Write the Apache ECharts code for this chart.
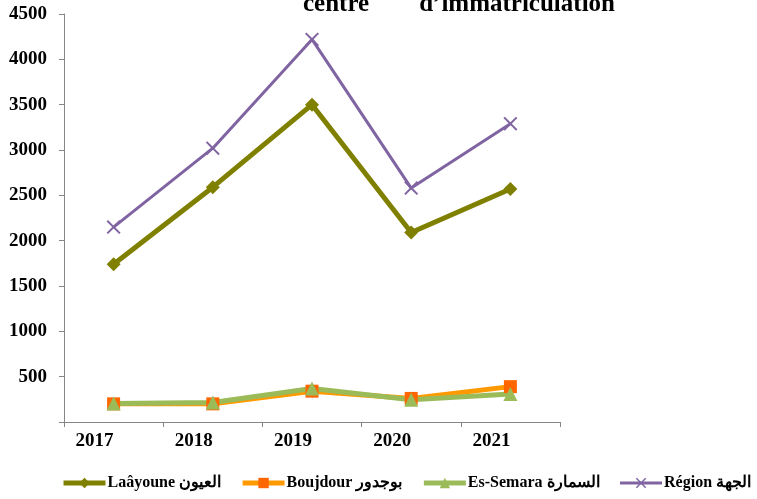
<!DOCTYPE html>
<html>
<head>
<meta charset="utf-8">
<script src="https://cdn.jsdelivr.net/npm/echarts@6/dist/echarts.min.js"></script>
<style>
  html, body { margin: 0; padding: 0; background: #fff; }
  #chart { width: 757px; height: 499px; }
</style>
</head>
<body>
<div id="chart"></div>
<script>
// années
var years = ["2017", "2018", "2019", "2020", "2021"];

// valeurs par centre
var laayoune = [1740, 2590, 3500, 2090, 2570];
var boujdour = [200, 200, 340, 260, 390];
var esSemara = [205, 215, 370, 245, 310];
var region = [2150, 3020, 4220, 2580, 3290];

var yTicks = [0, 500, 1000, 1500, 2000, 2500, 3000, 3500, 4000, 4500];

var serif = "Liberation Serif, Times New Roman, serif";
var xMark = "path://M0,1L1,0L5,4L9,0L10,1L6,5L10,9L9,10L5,6L1,10L0,9L4,5Z";

var chart = echarts.init(document.getElementById("chart"));

var option = {
  animation: false,
  title: {
    text: "centre        d\u2019immatriculation",
    left: 298,
    top: -13,
    textStyle: { fontFamily: serif, fontWeight: "bold", fontSize: 25, color: "#000" }
  },
  grid: { left: 64, right: 197, top: 14, bottom: 77 },
  legend: {
    bottom: 3,
    left: 56,
    itemWidth: 42,
    itemHeight: 13,
    itemGap: 19,
    textStyle: { fontFamily: serif, fontWeight: "bold", fontSize: 16, color: "#000", padding: [0, 0, 0, -3] },
    data: [
      { name: "Laâyoune العيون", lineStyle: { width: 5 } },
      { name: "Boujdour بوجدور", lineStyle: { width: 5 } },
      { name: "Es-Semara السمارة", lineStyle: { width: 5 } },
      { name: "Région الجهة", lineStyle: { width: 3 } }
    ]
  },
  xAxis: {
    type: "category",
    data: years,
    boundaryGap: true,
    axisLine: { lineStyle: { color: "#868686", width: 1 } },
    axisTick: { show: true, length: 5, lineStyle: { color: "#868686" } },
    axisLabel: {
      align: "right",
      margin: 10,
      fontFamily: serif,
      fontWeight: "bold",
      fontSize: 19,
      color: "#000"
    }
  },
  yAxis: {
    type: "value",
    min: yTicks[0],
    max: yTicks[yTicks.length - 1],
    interval: 500,
    splitLine: { show: false },
    axisLine: { show: true, lineStyle: { color: "#868686", width: 1 } },
    axisTick: { show: true, length: 5, lineStyle: { color: "#868686" } },
    axisLabel: {
      margin: 17,
      fontFamily: serif,
      fontWeight: "bold",
      fontSize: 19,
      color: "#000",
      formatter: function (v) { return v === 0 ? "" : String(v); }
    }
  },
  series: [
    {
      name: "Laâyoune العيون",
      type: "line",
      data: laayoune,
      symbol: "diamond",
      symbolSize: 14,
      lineStyle: { color: "#808000", width: 5 },
      itemStyle: { color: "#808000" }
    },
    {
      name: "Boujdour بوجدور",
      type: "line",
      data: boujdour,
      symbol: "rect",
      symbolSize: 13,
      lineStyle: { color: "#FF9900", width: 5 },
      itemStyle: { color: "#FF6600" }
    },
    {
      name: "Es-Semara السمارة",
      type: "line",
      data: esSemara,
      symbol: "triangle",
      symbolSize: 14,
      lineStyle: { color: "#9BBB59", width: 5 },
      itemStyle: { color: "#9BBB59" }
    },
    {
      name: "Région الجهة",
      type: "line",
      data: region,
      symbol: xMark,
      symbolSize: 14,
      lineStyle: { color: "#8064A2", width: 3 },
      itemStyle: { color: "#8064A2" }
    }
  ]
};

chart.setOption(option);
</script>
</body>
</html>
